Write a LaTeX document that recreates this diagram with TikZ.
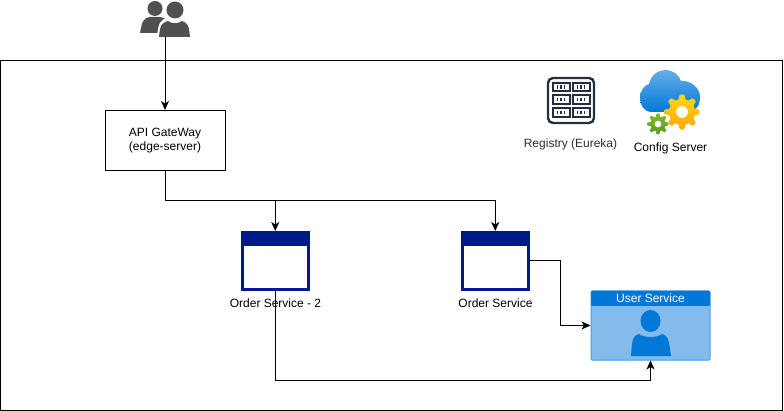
\documentclass[tikz,border=0pt]{standalone}
\usepackage{fontspec}
\setmainfont{Liberation Sans}
\usetikzlibrary{arrows.meta}
\definecolor{navy}{HTML}{001A8C}
\definecolor{azure}{HTML}{0078D7}
\definecolor{azurelight}{HTML}{83BBEB}
\definecolor{azureedge}{HTML}{4A9DE3}
\definecolor{slate}{HTML}{232F3E}
\definecolor{people}{HTML}{505050}
\definecolor{goldtop}{HTML}{FFD70F}
\definecolor{goldlow}{HTML}{FFA80A}
\definecolor{greentop}{HTML}{7FBA2A}
\definecolor{greenlow}{HTML}{5E9A1E}
\tikzset{
	box/.style = {draw, black, line width=1pt, minimum width=120pt, minimum height=60pt, align=center, font=\fontsize{12}{14}\selectfont},
	window/.style = {draw=navy, line width=3pt, fill=white, minimum width=66.5pt, minimum height=57pt},
	caption/.style = {font=\fontsize{12}{14}\selectfont, inner sep=0pt},
	link/.style = {-{Stealth[length=9pt,width=8pt,inset=2.5pt]}, black, line width=1pt}
}
% one gear: centre, outer radius, tooth height, hole, top and bottom colour
\newcommand{\geargear}[7]{
	\fill[white] (#1,#2) circle (#5+0.5);
	\shade[even odd rule, top color=#6, bottom color=#7]
		plot[domain=0:360, samples=145] ({#1+(#3-#4*0.5+#4*0.5*max(-1,min(1,1.8*cos(8*\x))))*cos(\x)}, {#2+(#3-#4*0.5+#4*0.5*max(-1,min(1,1.8*cos(8*\x))))*sin(\x)}) -- cycle
		(#1,#2) circle (#5);
}
\begin{document}
\begin{tikzpicture}[x=1pt, y=-1pt]
	\useasboundingbox (0, 0) rectangle (784, 411);

	% frame
	\node[draw, line width=1pt, minimum width=782pt, minimum height=350pt, inner sep=0pt] (frame) at (391, 235.5) {};

	% users
	\coordinate (users) at (165, 37);
	\fill[people] (155, 8.5) circle (7.5);
	\fill[people] (140, 33) .. controls (142, 22) and (143, 18) .. (150, 17) -- (160, 17) .. controls (167, 18) and (168, 22) .. (170, 33) -- cycle;
	\fill[white] (175, 10) circle (10);
	\fill[white] (157, 38) .. controls (158, 24) and (160, 19) .. (168, 18) -- (182, 18) -- (192, 38) -- cycle;
	\fill[people] (175, 10) circle (8.5);
	\fill[people] (159, 37) .. controls (160, 26) and (161, 23) .. (168, 21) .. controls (172, 24) and (178, 24) .. (182, 21) .. controls (188, 23) and (189, 26) .. (190, 37) -- cycle;

	% nodes
	\node[box] (gateway) at (165, 140.5) {API GateWay\\(edge-server)};
	\node[window] (order2) at (275.25, 261) {};
	\node[window] (order) at (495.25, 261) {};
	\fill[navy] (order2.north west) rectangle ([yshift=-15pt]order2.north east);
	\fill[navy] (order.north west) rectangle ([yshift=-15pt]order.north east);

	% user service
	\node[draw=azureedge, fill=azurelight, line width=1pt, rounded corners=1pt, minimum width=119pt, minimum height=69pt, inner sep=0pt] (user) at (650.5, 325.5) {};
	\fill[azure, rounded corners=1pt] (591, 291) rectangle (710, 306);
	\fill[azure] (650.5, 321) ellipse (10 and 11);
	\fill[azure] (631, 356) .. controls (632, 342) and (632, 336) .. (639, 334) .. controls (644, 338) and (657, 338) .. (662, 334) .. controls (669, 336) and (669, 342) .. (671, 356) -- cycle;
	\node[caption, white] (usertitle) at (650.5, 298) {User Service};

	% connectors
	\coordinate (split) at (165, 200.5);
	\coordinate (bend) at (560, 261);
	\coordinate (low) at (275.25, 380);
	\draw[link] (users) -- (gateway);
	\draw[link] (gateway) -- (split) -| (order2);
	\draw[link] (split) -| (order);
	\draw[link] (order.east) -- (bend) |- (user.west);
	\draw[link] (order2.south) -- (low) -| (user.south);

	% labels
	\node[caption] (order2label) at (275.5, 303.5) {Order Service - 2};
	\node[caption] (orderlabel) at (495.5, 303.5) {Order Service};

	% registry
	\draw[slate, line width=2.4pt, rounded corners=5pt] (548, 78) rectangle (594, 123);
	\foreach \x in {552.5, 572.5} {
		\foreach \y in {83, 95.5, 108.5} {
			\draw[slate, line width=2pt] (\x, \y) rectangle ++(17, 8.5);
			\foreach \d in {5, 8.5, 12}
				\fill[slate] (\x+\d-0.8, \y+2.5) rectangle ++(1.6, 3.5);
		}
	}
	\node[caption, slate] (registry) at (570.5, 144.5) {Registry (Eureka)};

	% config server
	\shade[top color=azure!60!white, bottom color=azure] (652, 112) .. controls (644, 112) and (640, 105) .. (640, 98) .. controls (640, 90) and (645, 85) .. (649, 84) .. controls (651, 75) and (658, 70) .. (665, 70) .. controls (673, 70) and (679, 75) .. (681, 81) .. controls (691, 80) and (700, 88) .. (700, 97) .. controls (700, 105) and (696, 112) .. (688, 112) -- cycle;
	\geargear{682}{112}{17.5}{4.5}{6}{goldtop}{goldlow}
	\geargear{658}{124}{10.5}{3}{3.5}{greentop}{greenlow}
	\node[caption] (config) at (670.5, 148) {Config Server};
\end{tikzpicture}
\end{document}
